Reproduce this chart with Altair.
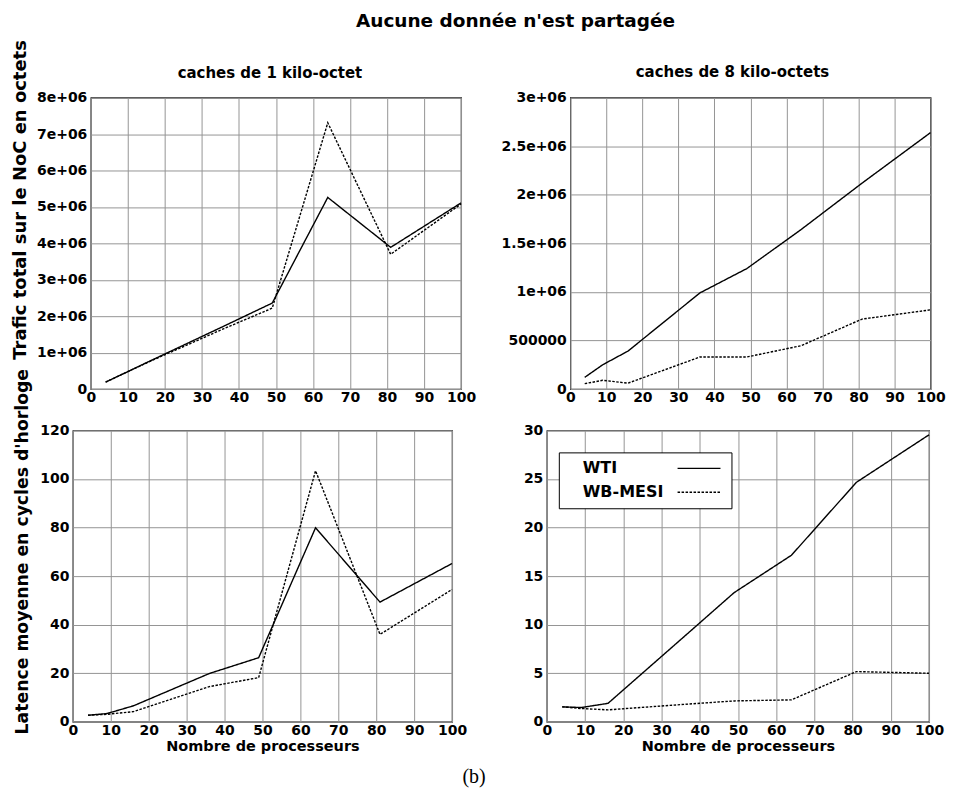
import altair as alt
import pandas as pd

# ---------------- data ----------------
procs = [4, 9, 16, 36, 49, 64, 81, 100]
series_names = ["WTI", "WB-MESI"]

traffic_1k_wti = [0.19e6, 0.43e6, 0.77e6, 1.73e6, 2.36e6, 5.26e6, 3.89e6, 5.11e6]
traffic_1k_mesi = [0.19e6, 0.43e6, 0.76e6, 1.66e6, 2.22e6, 7.31e6, 3.70e6, 5.08e6]
traffic_8k_wti = [0.12e6, 0.25e6, 0.39e6, 0.99e6, 1.24e6, 1.64e6, 2.12e6, 2.64e6]
traffic_8k_mesi = [0.055e6, 0.09e6, 0.06e6, 0.33e6, 0.33e6, 0.445e6, 0.72e6, 0.815e6]
latency_1k_wti = [2.7, 3.4, 6.6, 19.9, 26.4, 79.9, 49.3, 65.2]
latency_1k_mesi = [2.7, 3.1, 4.2, 14.5, 18.2, 103.4, 36.0, 54.5]
latency_8k_wti = [1.54, 1.47, 1.9, 8.8, 13.3, 17.15, 24.66, 29.55]
latency_8k_mesi = [1.54, 1.37, 1.23, 1.8, 2.15, 2.26, 5.17, 5.0]

x_ticks = [0, 10, 20, 30, 40, 50, 60, 70, 80, 90, 100]
traffic_1k_ticks = [0, 1e6, 2e6, 3e6, 4e6, 5e6, 6e6, 7e6, 8e6]
traffic_8k_ticks = [0, 5e5, 1e6, 1.5e6, 2e6, 2.5e6, 3e6]
latency_1k_ticks = [0, 20, 40, 60, 80, 100, 120]
latency_8k_ticks = [0, 5, 10, 15, 20, 25, 30]

main_title = "Aucune donnée n'est partagée"
caption = "(b)"
title_1k = "caches de 1 kilo-octet"
title_8k = "caches de 8 kilo-octets"
ytitle_traffic = "Trafic total sur le NoC en octets"
ytitle_latency = "Latence moyenne en cycles d'horloge"
xtitle = "Nombre de processeurs"

SCI = ("datum.value == 0 ? '0' : (datum.value < 1000000 ? format(datum.value, 'd') : "
       "replace(format(datum.value, '~e'), 'e+', 'e+0'))")
PLAIN = "format(datum.value, 'd')"
FONT = "DejaVu Sans"


def panel(wti, mesi, y_ticks, width, label_expr, title_text=None, title_dx=0, title_offset=11,
          y_axis_extra=None, x_title_text=None, legend=None):
    df = pd.DataFrame({
        "procs": procs + procs,
        "value": wti + mesi,
        "series": [series_names[0]] * len(procs) + [series_names[1]] * len(procs),
    })
    x_axis_kw = dict(values=x_ticks, labelExpr=PLAIN)
    if x_title_text:
        x_axis_kw.update(title=x_title_text, titleFontSize=14.5, titlePadding=2)
    else:
        x_axis_kw.update(title=None)
    y_axis_kw = dict(values=y_ticks, labelExpr=label_expr)
    if y_axis_extra:
        y_axis_kw.update(y_axis_extra)
    else:
        y_axis_kw.update(title=None)
    dash_kw = dict(scale=alt.Scale(domain=series_names, range=[[1, 0], [2.5, 1.5]]))
    dash_kw["legend"] = legend
    ch = alt.Chart(df).mark_line(color="black", strokeWidth=1.4).encode(
        x=alt.X("procs:Q", scale=alt.Scale(domain=[0, 100], nice=False, zero=False),
                axis=alt.Axis(**x_axis_kw)),
        y=alt.Y("value:Q", scale=alt.Scale(domain=[y_ticks[0], y_ticks[-1]], nice=False),
                axis=alt.Axis(**y_axis_kw)),
        strokeDash=alt.StrokeDash("series:N", **dash_kw),
        order=alt.Order("procs:Q"),
    )
    props = dict(width=width, height=292)
    if title_text:
        props["title"] = alt.Title(title_text, fontSize=15, fontWeight="bold", font=FONT,
                                   anchor="middle", frame="group", offset=title_offset,
                                   dx=title_dx)
    return ch.properties(**props)


legend = alt.Legend(
    title=None, orient="none", legendX=12, legendY=22, direction="vertical",
    symbolType="M103,0L146,0", symbolSize=4, symbolStrokeWidth=1.4, symbolStrokeColor="black",
    symbolFillColor="transparent", labelOffset=0, labelFont=FONT, labelFontSize=16,
    labelFontWeight="bold", labelColor="black", strokeColor="black", fillColor="white",
    padding=8, rowPadding=8, cornerRadius=0, labelLimit=300,
)

tl = panel(traffic_1k_wti, traffic_1k_mesi, traffic_1k_ticks, 371, SCI, title_text=title_1k,
           title_dx=-6, title_offset=-41.5,
           y_axis_extra=dict(title=ytitle_traffic, titleFontSize=18, titleX=-70, titleY=102,
                             titleAngle=270, titleAlign="center", titleBaseline="middle"))
tr = panel(traffic_8k_wti, traffic_8k_mesi, traffic_8k_ticks, 361, SCI, title_text=title_8k,
           title_dx=-18)
bl = panel(latency_1k_wti, latency_1k_mesi, latency_1k_ticks, 380, PLAIN,
           y_axis_extra=dict(title=ytitle_latency, titleFontSize=17.3, titleX=-50, titleY=121,
                             titleAngle=270, titleAlign="center", titleBaseline="middle"),
           x_title_text=xtitle)
br = panel(latency_8k_wti, latency_8k_mesi, latency_8k_ticks, 383, PLAIN,
           x_title_text=xtitle, legend=legend)

# invisible 1px spacer that shifts the upper-left panel to the right of the lower-left one
spacer = alt.Chart(pd.DataFrame({"s": [0]})).mark_point(size=1, opacity=0).properties(
    width=1, height=1, view=alt.ViewBackground(stroke="transparent"))

top_left = alt.hconcat(spacer, tl, spacing=-64)
top = alt.hconcat(top_left, tr, spacing=22.5).resolve_scale(strokeDash="independent").resolve_legend(strokeDash="independent")
bottom = alt.hconcat(bl, br, spacing=54).resolve_scale(strokeDash="independent").resolve_legend(strokeDash="independent")

inner = alt.vconcat(
    top, bottom, spacing=-38.5,
    title=alt.Title(main_title, fontSize=18.5, fontWeight="bold", font=FONT,
                    anchor="middle", dx=37, offset=8),
).resolve_scale(strokeDash="independent").resolve_legend(strokeDash="independent")

chart = alt.vconcat(inner, title=alt.Title(caption, orient="bottom", fontSize=20,
                                            fontWeight="normal", font="Liberation Serif",
                                            anchor="middle", dx=-4.5, offset=13)
                    ).resolve_scale(strokeDash="independent").resolve_legend(strokeDash="independent")

chart = chart.properties(padding={"left": 3, "top": 3, "right": 0, "bottom": 0}).configure_view(
    stroke="black", strokeWidth=1.2
).configure_axis(
    grid=True, gridColor="#959595", gridWidth=1, domain=False, ticks=False,
    labelFont=FONT, labelFontWeight="bold", labelFontSize=14, labelColor="black",
    labelFlush=False, labelOverlap=False,
    titleFont=FONT, titleFontWeight="bold", titleColor="black",
).configure_axisX(labelPadding=2).configure_axisY(labelPadding=4).configure_title(color="black")

chart.save("out.html", embed_options={"renderer": "svg", "actions": False})
